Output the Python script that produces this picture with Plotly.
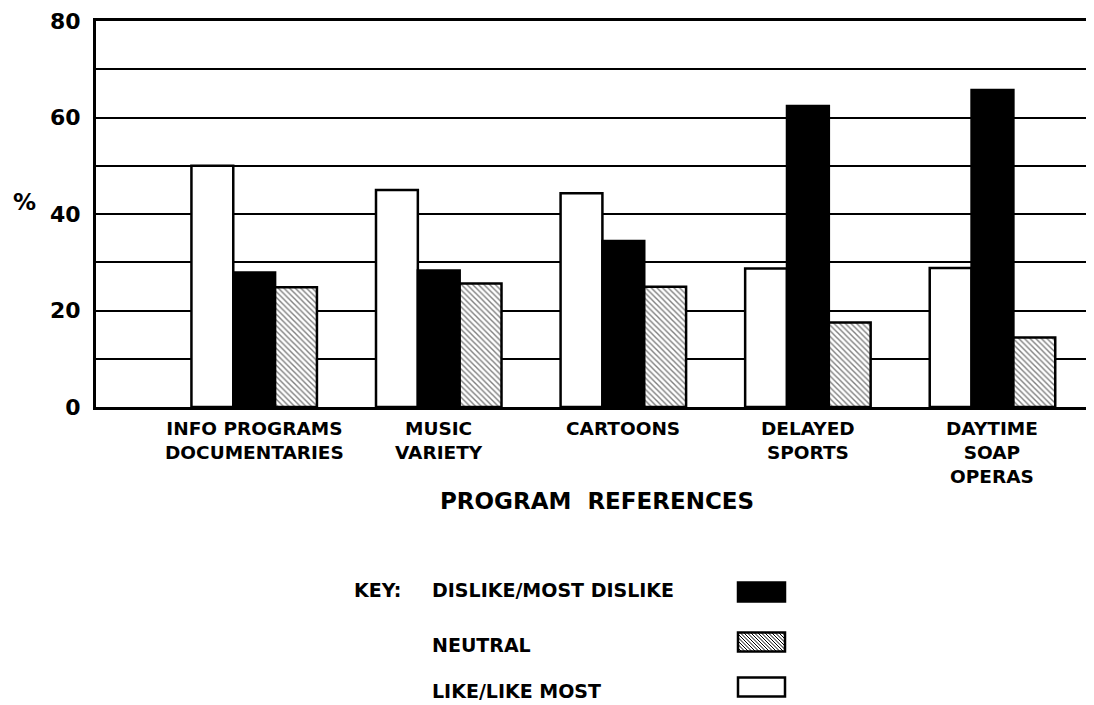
import plotly.graph_objects as go

categories = ["INFO PROGRAMS\nDOCUMENTARIES", "MUSIC\nVARIETY", "CARTOONS",
              "DELAYED\nSPORTS", "DAYTIME\nSOAP\nOPERAS"]
like_most = [50, 45, 44.3, 28.7, 28.8]
dislike_most = [27.9, 28.3, 34.4, 62.4, 65.7]
neutral = [24.8, 25.6, 24.9, 17.5, 14.4]
y_ticks = [0, 10, 20, 30, 40, 50, 60, 70, 80]
y_ticktext = ["0", "", "20", "", "40", "", "60", "", "80"]
legend_labels = ["DISLIKE/MOST DISLIKE", "NEUTRAL", "LIKE/LIKE MOST"]

FONT = "DejaVu Sans"
OFF = 8  # default body margin of the html page
W, H = 1094 - OFF, 705 - OFF
ML, MR, MT, MB = 96 - OFF, 0, 21 - OFF, 298
PW, PH = W - ML - MR, H - MT - MB


def px_x(page_x):
    return (page_x - OFF - ML) / PW


def px_y(page_y):
    return (H - MB - (page_y - OFF)) / PH


def bold(size):
    return dict(family=FONT, size=size, weight="bold", color="black")


cat_keys = [c.replace("\n", " ") for c in categories]

fig = go.Figure()
fig.add_trace(go.Bar(x=cat_keys, y=like_most, name="LIKE/LIKE MOST",
                     marker=dict(color="white", line=dict(color="black", width=2.5))))
fig.add_trace(go.Bar(x=cat_keys, y=dislike_most, name="DISLIKE/MOST DISLIKE",
                     marker=dict(color="black", line=dict(color="black", width=2.5))))
fig.add_trace(go.Bar(x=cat_keys, y=neutral, name="NEUTRAL",
                     marker=dict(color="white", line=dict(color="black", width=2.5),
                                 pattern=dict(shape="\\", fgcolor="black", bgcolor="white",
                                              size=4, solidity=0.35))))

fig.update_layout(
    width=W, height=H,
    margin=dict(l=ML, r=MR, t=MT, b=MB, pad=0),
    paper_bgcolor="white", plot_bgcolor="white",
    barmode="group", bargap=0.32, bargroupgap=0,
    showlegend=False,
    font=dict(family=FONT, color="black"),
    xaxis=dict(type="category", range=[-0.857, 4.55], showticklabels=False,
               showline=True, linecolor="black", linewidth=3, mirror=True,
               showgrid=False, ticks="", zeroline=False),
    yaxis=dict(range=[0, 80], tickvals=y_ticks, ticktext=y_ticktext,
               showgrid=True, gridcolor="black", gridwidth=2,
               showline=True, linecolor="black", linewidth=3,
               ticks="", ticklabelstandoff=8, zeroline=False,
               tickfont=bold(22)),
)

annotations = []
# category labels
for key, label in zip(cat_keys, categories):
    annotations.append(dict(x=key, xref="x", y=0, yref="paper", yanchor="top",
                            yshift=-10, text=label.replace("\n", "<br>"), showarrow=False,
                            borderpad=0, font=bold(18.5)))
# "%" axis label
annotations.append(dict(x=px_x(24.5), y=px_y(202), xref="paper", yref="paper",
                        xanchor="center", yanchor="middle", text="%", showarrow=False,
                        font=bold(23)))
# x axis title
annotations.append(dict(x=px_x(597), y=px_y(501), xref="paper", yref="paper",
                        xanchor="center", yanchor="middle",
                        text="PROGRAM  REFERENCES", showarrow=False, font=bold(23)))
# key
annotations.append(dict(x=px_x(352), y=px_y(590), xref="paper", yref="paper",
                        xanchor="left", yanchor="middle", text="KEY:", showarrow=False,
                        font=bold(19)))
legend_text_y = [590, 645, 691]
for lab, yy in zip(legend_labels, legend_text_y):
    annotations.append(dict(x=px_x(430), y=px_y(yy), xref="paper", yref="paper",
                            xanchor="left", yanchor="middle", text=lab, showarrow=False,
                            font=bold(19)))
fig.update_layout(annotations=annotations)

# legend swatches
swatch_y = [592, 642, 687]
swatch_fill = ["black", "white", "white"]
sx0, sx1, sh = 738, 785, 19
for yy, fill in zip(swatch_y, swatch_fill):
    fig.add_shape(type="rect", xref="paper", yref="paper",
                  x0=px_x(sx0), x1=px_x(sx1), y0=px_y(yy + sh / 2), y1=px_y(yy - sh / 2),
                  line=dict(color="black", width=2.5), fillcolor=fill)

# hatch lines for the neutral swatch
y_top, y_bot = swatch_y[1] - sh / 2, swatch_y[1] + sh / 2
h = y_bot - y_top
k = sx0 - h
while k < sx1:
    xa, ya, xb, yb = k, y_top, k + h, y_bot
    if xa < sx0:
        ya = y_top + (sx0 - xa)
        xa = sx0
    if xb > sx1:
        yb = y_bot - (xb - sx1)
        xb = sx1
    if xa < xb:
        fig.add_shape(type="line", xref="paper", yref="paper",
                      x0=px_x(xa), y0=px_y(ya), x1=px_x(xb), y1=px_y(yb),
                      line=dict(color="black", width=1))
    k += 3.5

fig.write_html("out.html")
